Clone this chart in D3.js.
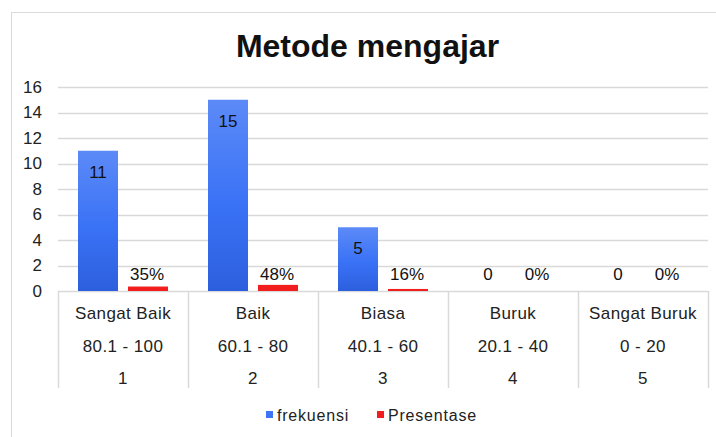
<!DOCTYPE html>
<html>
<head>
<meta charset="utf-8">
<script src="https://cdn.jsdelivr.net/npm/d3@7"></script>
<style>
  body { margin: 0; background: #fff; }
  svg { display: block; font-family: "Liberation Sans", Arial, sans-serif; }
</style>
</head>
<body>
<svg width="716" height="437"></svg>
<script>
// data
const categories = ["Sangat Baik", "Baik", "Biasa", "Buruk", "Sangat Buruk"];
const ranges = ["80.1 - 100", "60.1 - 80", "40.1 - 60", "20.1 - 40", "0 - 20"];
const ranks = ["1", "2", "3", "4", "5"];
const frekuensi = [11, 15, 5, 0, 0];
const presentase = [0.35, 0.48, 0.16, 0, 0];
const seriesNames = ["frekuensi", "Presentase"];
const yTicks = [0, 2, 4, 6, 8, 10, 12, 14, 16];

const width = 716, height = 437;
const margin = { left: 58, right: 8, top: 87, bottom: 146 };

const svg = d3.select("svg");

// bingkai chart
svg.append("rect")
    .attr("x", 11.5).attr("y", 12.5)
    .attr("width", 800).attr("height", 500)
    .style("fill", "none")
    .style("stroke", "#d9d9d9");

// gradien biru untuk batang frekuensi
const grad = svg.append("defs").append("linearGradient")
    .attr("id", "blueGrad")
    .attr("x1", 0).attr("y1", 0).attr("x2", 0).attr("y2", 1);
grad.append("stop").attr("offset", "0%").attr("stop-color", "#5c8af7");
grad.append("stop").attr("offset", "55%").attr("stop-color", "#3a72f6");
grad.append("stop").attr("offset", "100%").attr("stop-color", "#2c5fdd");

const x = d3.scaleBand()
    .domain(categories)
    .range([margin.left, width - margin.right]);

const xInner = d3.scaleBand()
    .domain(seriesNames)
    .range([0, x.bandwidth()])
    .paddingInner(0.2)
    .paddingOuter(0.4);

const y = d3.scaleLinear()
    .domain([0, 16])
    .range([height - margin.bottom, margin.top]);

// judul
svg.append("text")
    .attr("x", 367.5).attr("y", 57)
    .attr("text-anchor", "middle")
    .style("font-size", "32px")
    .style("font-weight", "bold")
    .style("fill", "#111")
    .text("Metode mengajar");

// garis grid
svg.append("g")
    .selectAll("line")
    .data(yTicks.filter(d => d > 0))
    .enter().append("line")
    .attr("x1", margin.left).attr("x2", width - margin.right)
    .attr("y1", d => Math.round(y(d)) + 0.5)
    .attr("y2", d => Math.round(y(d)) + 0.5)
    .style("stroke", "#d9d9d9")
    .style("stroke-width", "1.5px");

// sumbu Y
const yAxis = svg.append("g")
    .attr("transform", "translate(42,0)")
    .call(d3.axisLeft(y).tickValues(yTicks).tickSize(0).tickPadding(0));
yAxis.select(".domain").remove();
yAxis.selectAll("text")
    .style("font-size", "17px")
    .style("font-family", "Liberation Sans, Arial, sans-serif")
    .style("fill", "#222");

// tabel kategori di bawah
const y0 = y(0);
const tableBottom = 388;
const table = svg.append("g");
table.append("line")
    .attr("x1", margin.left).attr("x2", width - margin.right)
    .attr("y1", Math.round(y0) + 0.5).attr("y2", Math.round(y0) + 0.5)
    .style("stroke", "#d9d9d9").style("stroke-width", "1.5px");
table.selectAll(".sep")
    .data(categories.map(c => x(c)).concat([x.range()[1]]))
    .enter().append("line")
    .attr("class", "sep")
    .attr("x1", d => Math.round(d) + 0.5).attr("x2", d => Math.round(d) + 0.5)
    .attr("y1", y0).attr("y2", tableBottom)
    .style("stroke", "#d9d9d9").style("stroke-width", "1.5px");

const rows = [categories, ranges, ranks];
const rowY = [319, 352, 384];
rows.forEach((row, r) => {
    table.selectAll(".row" + r)
        .data(row)
        .enter().append("text")
        .attr("x", (d, i) => x(categories[i]) + x.bandwidth() / 2)
        .attr("y", rowY[r])
        .attr("text-anchor", "middle")
        .style("font-size", "17px")
        .style("letter-spacing", "0.4px")
        .style("fill", "#222")
        .text(d => d);
});

// batang
const groups = svg.selectAll(".cat")
    .data(categories)
    .enter().append("g")
    .attr("class", "cat")
    .attr("transform", d => `translate(${x(d)},0)`);

groups.append("rect")
    .attr("x", xInner("frekuensi"))
    .attr("width", xInner.bandwidth())
    .attr("y", (d, i) => y(frekuensi[i]))
    .attr("height", (d, i) => y0 - y(frekuensi[i]))
    .style("fill", "url(#blueGrad)");

groups.append("rect")
    .attr("x", xInner("Presentase"))
    .attr("width", xInner.bandwidth())
    .attr("y", (d, i) => y(presentase[i]))
    .attr("height", (d, i) => y0 - y(presentase[i]))
    .style("fill", "#f21d1d");

// label nilai
groups.append("text")
    .attr("x", xInner("frekuensi") + xInner.bandwidth() / 2)
    .attr("y", (d, i) => frekuensi[i] > 2 ? y(frekuensi[i]) + 27 : y0 - 11.5)
    .attr("text-anchor", "middle")
    .style("font-size", "17px")
    .style("fill", "#111")
    .text((d, i) => frekuensi[i]);

groups.append("text")
    .attr("x", xInner("Presentase") + xInner.bandwidth() / 2 - 1)
    .attr("y", y0 - 11.5)
    .attr("text-anchor", "middle")
    .style("font-size", "17px")
    .style("fill", "#111")
    .text((d, i) => Math.round(presentase[i] * 100) + "%");

// legenda
const legendColors = ["#3f74f5", "#f21d1d"];
const legendX = [266, 377];
const legend = svg.selectAll(".legend")
    .data(seriesNames)
    .enter().append("g")
    .attr("class", "legend")
    .attr("transform", (d, i) => `translate(${legendX[i]},411)`);
legend.append("rect")
    .attr("width", 7).attr("height", 7)
    .style("fill", (d, i) => legendColors[i]);
legend.append("text")
    .attr("x", 11).attr("y", 9.5)
    .style("font-size", "16px")
    .style("letter-spacing", "0.8px")
    .style("fill", "#222")
    .text(d => d);
</script>
</body>
</html>
